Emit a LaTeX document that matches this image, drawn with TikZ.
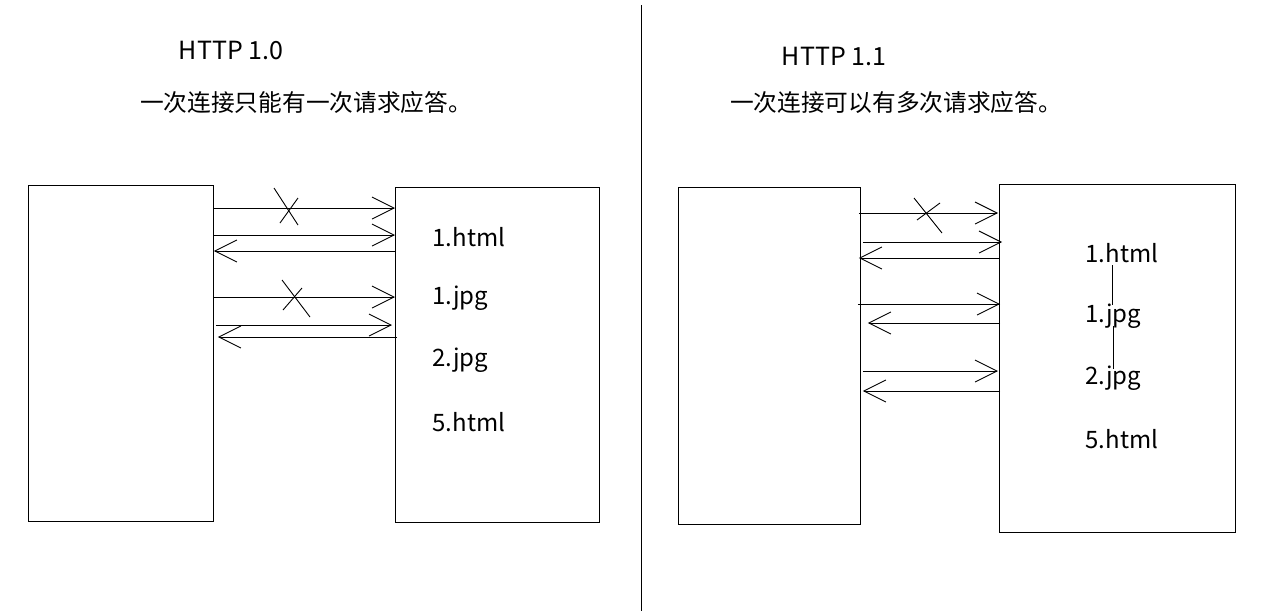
\documentclass[tikz,border=0pt]{standalone}
\usepackage{fontspec}
\setmainfont{Noto Sans CJK SC}
\usetikzlibrary{arrows.meta}
\begin{document}
\begin{tikzpicture}[x=1pt,y=-1pt, line width=0.9pt,
  box/.style={draw, line width=0.9pt, inner sep=0, anchor=north west},
  lbl/.style={anchor=west, inner sep=0, font=\fontsize{24}{28}\selectfont},
  ttl/.style={inner sep=0, font=\fontsize{25}{29}\selectfont},
  cn/.style={inner sep=0, font=\fontsize{23.7}{28}\selectfont},
  arr/.style={-{Straight Barb[length=22pt,width=22pt]}},
  ]
\useasboundingbox (0,0) rectangle (1279,611);
% divider
\draw (641,5) -- (641,611);
% titles
\node[ttl] (t1) at (231,50) {HTTP 1.0};
\node[cn] (d1) at (306,102) {一次连接只能有一次请求应答。};
\node[ttl] (t2) at (834,56) {HTTP 1.1};
\node[cn] (d2) at (896,102) {一次连接可以有多次请求应答。};
% left boxes
\node[box, minimum width=185pt, minimum height=336pt] (c1) at (28,185) {};
\node[box, minimum width=204pt, minimum height=335pt] (s1) at (395,187) {};
% right boxes
\node[box, minimum width=182pt, minimum height=337pt] (c2) at (678,187) {};
\node[box, minimum width=236pt, minimum height=348pt] (s2) at (999,184) {};
% left labels
\node[lbl] (l1) at (432,237) {1.html};
\node[lbl] (l2) at (432,298) {1.jpg};
\node[lbl] (l3) at (432,360) {2.jpg};
\node[lbl] (l4) at (432,422) {5.html};
% right labels
\node[lbl] (r1) at (1085,253) {1.html};
\node[lbl] (r2) at (1085,316) {1.jpg};
\node[lbl] (r3) at (1085,378) {2.jpg};
\node[lbl] (r4) at (1085,439) {5.html};
\draw ([yshift=-2pt]r1.south -| 1112,0) -- ([yshift=-2pt]r2.north -| 1112,0);
\draw ([yshift=3pt]r2.south -| 1113,0) -- ([yshift=-4pt]r3.north -| 1113,0);
% left arrows
\draw[arr] (c1.east |- 0,208) -- (s1.west |- 0,208);
\draw[arr] (c1.east |- 0,235) -- (s1.west |- 0,235);
\draw[arr] (s1.west |- 0,251) -- (c1.east |- 0,251);
\draw[arr] (c1.east |- 0,297) -- (s1.west |- 0,297);
\draw[arr] ([xshift=2pt]c1.east |- 0,325) -- ([xshift=-3pt]s1.west |- 0,325);
\draw[arr] ([xshift=2pt]s1.west |- 0,337) -- ([xshift=4pt]c1.east |- 0,337);
% left crosses
\draw (274,188) -- (298,225);
\draw (298,198) -- (280,223);
\draw (282,280) -- (310,317);
\draw (302,288) -- (283,310);
% right arrows
\draw[arr] ([xshift=-2pt]c2.east |- 0,213) -- ([xshift=-1pt]s2.west |- 0,213);
\draw[arr] ([xshift=2pt]c2.east |- 0,242) -- ([xshift=3pt]s2.west |- 0,242);
\draw[arr] (s2.west |- 0,258) -- ([xshift=-2pt]c2.east |- 0,258);
\draw[arr] ([xshift=-3pt]c2.east |- 0,304) -- ([xshift=1pt]s2.west |- 0,304);
\draw[arr] ([xshift=1pt]s2.west |- 0,323) -- ([xshift=7pt]c2.east |- 0,323);
\draw[arr] ([xshift=2pt]c2.east |- 0,371) -- ([xshift=-1pt]s2.west |- 0,371);
\draw[arr] ([xshift=1pt]s2.west |- 0,391) -- ([xshift=2pt]c2.east |- 0,391);
% right cross
\draw (914,198) -- (942,233);
\draw (940,203) -- (917,220);
\end{tikzpicture}
\end{document}
